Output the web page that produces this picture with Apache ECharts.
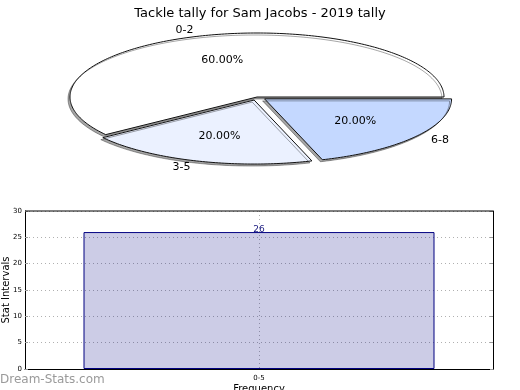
<!DOCTYPE html>
<html><head><meta charset="utf-8">
<script src="https://cdn.jsdelivr.net/npm/echarts@6/dist/echarts.min.js"></script>
<style>html,body{margin:0;padding:0;background:#fff}#c{width:520px;height:390px}</style>
</head><body><div id="c"></div>
<script>
const pieCategories = ['0-2', '3-5', '6-8'];
const pieValues = [60, 20, 20];
const pieExplode = [0, 0.05, 0.05];
const barCategories = ['0-5'];
const barValues = [26];
const yTicks = [0, 5, 10, 15, 20, 25, 30];

const pieColors = ['#ffffff', '#ebf1ff', '#c4d8ff'];
const total = pieValues.reduce((a, b) => a + b, 0);
const PC = {cx: 257, cy: 97, rx: 187, ry: 64};
const FONT = '"DejaVu Sans", sans-serif';

function renderSlice(params, api) {
  const i = params.dataIndex;
  let before = 0;
  for (let k = 0; k < i; k++) before += pieValues[k];
  const v = api.value(1);
  const a0 = before / total * 2 * Math.PI;
  const a1 = (before + v) / total * 2 * Math.PI;
  const mid = (a0 + a1) / 2;
  const ex = pieExplode[i];
  const ox = PC.cx + ex * PC.rx * Math.cos(mid);
  const oy = PC.cy - ex * PC.ry * Math.sin(mid);
  const pts = [[ox, oy]];
  const n = Math.max(8, Math.round((a1 - a0) / (Math.PI / 180)));
  for (let s = 0; s <= n; s++) {
    const a = a0 + (a1 - a0) * s / n;
    pts.push([ox + PC.rx * Math.cos(a), oy - PC.ry * Math.sin(a)]);
  }
  const pct = (v / total * 100).toFixed(2) + '%';
  const px = ox + 0.6 * PC.rx * Math.cos(mid);
  const py = oy - 0.6 * PC.ry * Math.sin(mid);
  const lx = ox + 1.1 * PC.rx * Math.cos(mid);
  const ly = oy - 1.1 * PC.ry * Math.sin(mid);
  return {
    type: 'group',
    children: [
      {type: 'polygon', shape: {points: pts}, z2: 1,
       style: {fill: pieColors[i], stroke: '#111', lineWidth: 1,
               shadowColor: 'rgba(0,0,0,0.35)', shadowOffsetX: -2, shadowOffsetY: 2, shadowBlur: 0}},
      {type: 'text', x: px, y: py, z2: 5,
       style: {text: pct, fill: '#000', font: '11px ' + FONT, align: 'center', verticalAlign: 'middle'}},
      {type: 'text', x: lx, y: ly, z2: 5,
       style: {text: pieCategories[i], fill: '#000', font: '11px ' + FONT,
               align: Math.cos(mid) < 0 ? 'right' : 'left', verticalAlign: 'middle'}}
    ]
  };
}

const chart = echarts.init(document.getElementById('c'), null, {renderer: 'canvas'});
chart.setOption({
  animation: false,
  backgroundColor: '#fff',
  title: {text: 'Tackle tally for Sam Jacobs - 2019 tally', left: 'center', top: 2,
          textStyle: {fontFamily: FONT, fontSize: 13, fontWeight: 'normal', color: '#000'}},
  grid: {left: 25, right: 27, top: 211, bottom: 21, show: false, containLabel: false, outerBoundsMode: 'none'},
  xAxis: {type: 'category', data: barCategories, boundaryGap: true,
          name: 'Frequency', nameLocation: 'middle', nameGap: 15, nameMoveOverlap: false,
          nameTextStyle: {fontFamily: FONT, fontSize: 10, color: '#000'},
          axisLine: {lineStyle: {color: '#000', width: 1}},
          axisTick: {show: false},
          axisLabel: {fontFamily: FONT, fontSize: 7, color: '#000', margin: 6},
          splitLine: {show: true, alignWithLabel: true, lineStyle: {color: '#b0b0b0', type: [1, 3], width: 1}}},
  yAxis: [
    {type: 'value', min: 0, max: 30, interval: 5,
     name: 'Stat Intervals', nameLocation: 'middle', nameGap: 14, nameMoveOverlap: false,
     nameTextStyle: {fontFamily: FONT, fontSize: 10, color: '#000'},
     axisLine: {show: true, lineStyle: {color: '#000', width: 1}},
     axisTick: {show: true, inside: true, length: 3, lineStyle: {color: '#999'}},
     axisLabel: {fontFamily: FONT, fontSize: 7, color: '#000', margin: 3,
                 formatter: v => yTicks.indexOf(v) >= 0 ? String(v) : ''},
     splitLine: {show: true, lineStyle: {color: '#b0b0b0', type: [1, 3], width: 1}}},
    {type: 'value', min: 0, max: 30, interval: 5, position: 'right',
     axisLine: {show: true, lineStyle: {color: '#000', width: 1}},
     axisTick: {show: true, inside: true, length: 3, lineStyle: {color: '#999'}},
     axisLabel: {show: false}, splitLine: {show: false}}
  ],
  graphic: [
    {type: 'line', shape: {x1: 25, y1: 211, x2: 493, y2: 211}, style: {stroke: '#000', lineWidth: 1}, z: 10},
    {type: 'text', left: 0, top: 374, z: 20,
     style: {text: 'Dream-Stats.com', font: '12px ' + FONT, fill: '#9a9a9a'}}
  ],
  series: [
    {type: 'custom', coordinateSystem: 'none', renderItem: renderSlice,
     data: pieCategories.map((c, i) => [c, pieValues[i]])},
    {type: 'bar', data: barValues, barWidth: '75%', z: 1,
     itemStyle: {color: 'rgba(0,0,128,0.2)', borderColor: '#000080', borderWidth: 1},
     label: {show: true, position: 'top', distance: -2, color: '#1a1a80', fontFamily: FONT, fontSize: 9}}
  ]
});
</script></body></html>
